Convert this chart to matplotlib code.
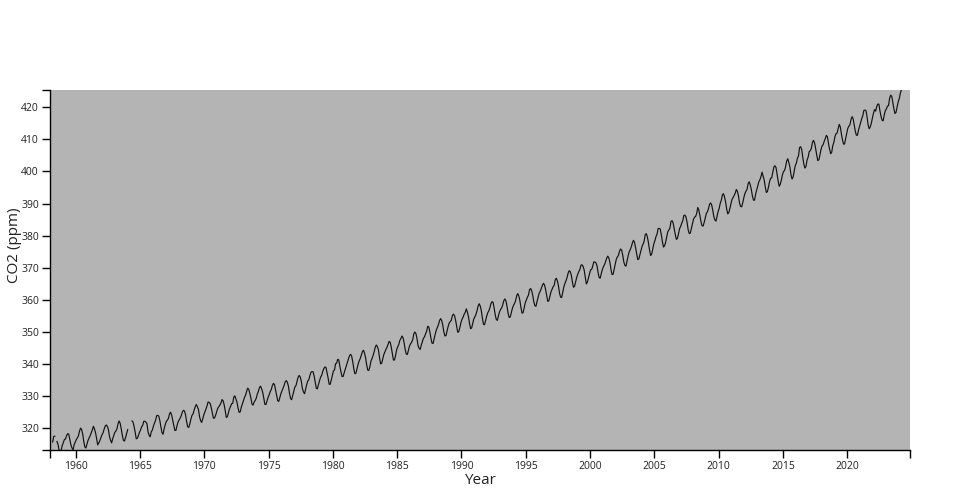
import numpy as np
import matplotlib
matplotlib.use('Agg')
import matplotlib.pyplot as plt

# Monthly mean CO2 at Mauna Loa (ppm), March 1958 to March 2024; None = missing month
first_year = 1958
first_month = 3
co2_ppm = [
    315.70, 317.45, 317.51, None, 315.86, 314.93, 313.20, None, 313.33, 314.67,  # 1958 (Mar-Dec)
    315.58, 316.49, 316.65, 317.72, 318.29, 318.15, 316.54, 314.80, 313.84, 313.26, 314.80, 315.58,
    316.43, 316.97, 317.58, 319.02, 320.03, 319.59, 318.18, 315.91, 314.16, 313.83, 315.00, 316.19,
    316.93, 317.70, 318.54, 319.48, 320.58, 319.77, 318.57, 316.79, 314.80, 315.38, 316.10, 317.01,
    317.94, 318.56, 319.68, 320.63, 321.01, 320.55, 319.58, 317.40, 316.26, 315.42, 316.69, 317.69,
    318.74, 319.08, 319.86, 321.39, 322.25, 321.47, 319.74, 317.77, 316.21, 315.99, 317.07, 318.35,
    319.57, None, None, None, 322.26, 321.89, 320.44, 318.70, 316.70, 316.87, 317.68, 318.71,
    319.44, 320.44, 320.89, 322.13, 322.16, 321.87, 321.39, 318.81, 317.81, 317.30, 318.87, 319.42,
    320.62, 321.59, 322.39, 323.87, 324.01, 323.75, 322.39, 320.37, 318.64, 318.10, 319.79, 321.08,
    322.07, 322.50, 323.04, 324.42, 325.00, 324.09, 322.55, 320.92, 319.31, 319.31, 320.72, 321.96,
    322.57, 323.15, 323.89, 325.02, 325.57, 325.36, 324.14, 322.03, 320.41, 320.25, 321.31, 322.84,
    324.00, 324.42, 325.64, 326.66, 327.38, 326.70, 325.89, 323.67, 322.38, 321.78, 322.85, 324.11,
    325.03, 325.99, 326.87, 328.13, 328.07, 327.66, 326.35, 324.69, 323.10, 323.16, 323.98, 325.13,
    326.17, 326.68, 327.18, 327.78, 328.92, 328.57, 327.34, 325.46, 323.36, 323.57, 324.80, 326.01,
    326.77, 327.63, 327.75, 329.72, 330.07, 329.09, 328.05, 326.32, 324.93, 325.06, 326.50, 327.55,
    328.54, 329.56, 330.30, 331.50, 332.48, 332.07, 330.87, 329.31, 327.51, 327.18, 328.16, 328.64,
    329.35, 330.71, 331.48, 332.65, 333.09, 332.25, 331.18, 329.40, 327.43, 327.37, 328.46, 329.57,
    330.40, 331.40, 332.04, 333.31, 333.96, 333.59, 331.91, 330.06, 328.56, 328.34, 329.49, 330.76,
    331.63, 332.46, 333.36, 334.45, 334.82, 334.32, 333.05, 330.87, 329.24, 328.87, 330.18, 331.50,
    332.81, 333.23, 334.55, 335.82, 336.44, 335.99, 334.65, 332.41, 331.32, 330.73, 332.05, 333.53,
    334.66, 335.07, 336.33, 337.39, 337.65, 337.57, 336.25, 334.39, 332.44, 332.25, 333.59, 334.76,
    335.89, 336.44, 337.63, 338.54, 339.06, 338.95, 337.41, 335.71, 333.68, 333.69, 335.05, 336.53,
    337.81, 338.16, 340.10, 340.26, 341.47, 341.26, 339.29, 337.60, 336.12, 336.08, 337.22, 338.34,
    339.36, 340.51, 341.57, 342.56, 343.01, 342.47, 340.71, 338.52, 336.96, 337.13, 338.58, 339.89,
    340.93, 341.69, 342.69, 343.79, 344.30, 343.43, 341.94, 339.77, 338.09, 337.99, 339.14, 340.86,
    341.69, 342.65, 343.76, 345.22, 345.92, 345.42, 344.38, 342.06, 340.05, 340.19, 341.54, 342.91,
    343.78, 344.58, 345.24, 346.12, 347.05, 346.73, 345.18, 343.11, 341.22, 341.26, 342.71, 344.40,
    345.36, 346.09, 347.36, 348.00, 348.72, 348.14, 346.53, 344.43, 343.08, 342.99, 344.27, 345.62,
    346.30, 346.77, 347.60, 349.38, 349.97, 349.48, 347.89, 345.71, 344.86, 344.55, 345.92, 346.99,
    348.02, 348.47, 349.43, 350.20, 351.75, 351.51, 349.97, 348.01, 346.50, 346.41, 347.86, 349.31,
    350.56, 351.42, 352.26, 353.49, 354.15, 353.60, 352.17, 350.08, 348.77, 348.82, 350.28, 351.64,
    352.71, 353.21, 353.63, 355.08, 355.55, 355.05, 353.65, 351.69, 349.88, 350.09, 351.39, 352.86,
    353.95, 354.61, 355.51, 356.08, 357.19, 356.16, 354.73, 352.65, 350.98, 351.25, 352.68, 354.06,
    354.67, 355.46, 356.56, 358.08, 358.78, 358.07, 356.62, 354.32, 352.36, 352.23, 353.61, 354.88,
    355.96, 356.52, 357.53, 358.81, 359.43, 359.19, 357.40, 355.30, 353.85, 353.59, 355.05, 356.25,
    357.00, 357.47, 358.42, 359.74, 360.28, 359.64, 357.95, 355.83, 354.50, 354.64, 355.95, 357.33,
    358.24, 358.82, 359.73, 361.28, 361.94, 361.22, 359.74, 357.54, 355.84, 356.00, 357.59, 359.04,
    359.94, 360.78, 361.49, 363.15, 363.52, 362.83, 361.39, 359.38, 358.17, 357.99, 359.45, 360.68,
    362.03, 362.71, 363.55, 364.51, 365.15, 364.65, 363.22, 361.45, 359.53, 359.69, 361.07, 362.46,
    363.23, 364.07, 364.51, 366.22, 366.73, 365.89, 364.34, 362.06, 360.83, 360.72, 362.40, 364.00,
    365.08, 365.91, 366.92, 368.29, 369.08, 368.78, 367.58, 365.61, 363.91, 364.20, 365.54, 366.93,
    367.99, 368.80, 369.46, 370.76, 370.93, 370.40, 369.26, 367.14, 364.95, 365.51, 366.89, 368.14,
    369.30, 369.46, 370.53, 371.82, 371.77, 371.52, 370.60, 368.48, 366.86, 366.77, 368.24, 369.47,
    370.36, 370.99, 371.92, 372.97, 373.61, 373.08, 371.66, 369.48, 367.89, 367.95, 369.51, 370.94,
    372.70, 373.37, 373.85, 375.19, 375.84, 375.44, 373.86, 371.77, 370.73, 370.50, 372.18, 373.70,
    374.92, 375.63, 376.51, 377.75, 378.54, 377.84, 376.15, 374.25, 372.54, 372.74, 374.07, 375.52,
    376.64, 377.39, 378.32, 380.36, 380.60, 379.56, 377.72, 375.49, 373.80, 374.25, 375.79, 377.43,
    378.43, 379.69, 380.45, 382.17, 382.28, 382.00, 380.23, 378.12, 376.44, 376.82, 377.94, 379.55,
    381.20, 381.75, 382.31, 384.44, 384.67, 383.95, 382.12, 380.41, 378.85, 379.09, 380.53, 382.14,
    382.89, 383.81, 384.61, 386.26, 386.39, 385.80, 384.16, 381.91, 380.67, 380.77, 382.11, 383.59,
    385.09, 385.75, 385.98, 386.94, 388.77, 387.96, 386.14, 384.38, 383.07, 382.99, 384.14, 385.58,
    386.91, 387.44, 388.40, 389.75, 390.20, 389.55, 387.88, 385.91, 384.85, 384.53, 386.07, 387.54,
    388.56, 390.11, 391.04, 392.76, 393.07, 392.02, 390.43, 388.25, 386.78, 387.21, 388.51, 389.99,
    391.33, 391.87, 392.60, 393.26, 394.40, 393.79, 392.33, 390.07, 389.07, 388.99, 390.28, 391.86,
    393.12, 393.86, 394.40, 396.18, 396.78, 395.81, 394.33, 392.33, 391.05, 391.07, 392.95, 394.28,
    395.55, 396.80, 397.43, 398.41, 399.78, 398.60, 397.32, 395.20, 393.45, 393.70, 395.16, 396.84,
    397.85, 398.01, 399.77, 401.38, 401.78, 401.25, 399.10, 397.03, 395.38, 396.03, 397.28, 398.91,
    399.98, 400.28, 401.54, 403.28, 403.96, 402.80, 401.31, 398.93, 397.63, 398.29, 400.16, 401.85,
    402.56, 404.12, 404.87, 407.45, 407.72, 406.83, 404.41, 402.27, 401.05, 401.59, 403.55, 404.45,
    406.17, 406.46, 407.22, 409.04, 409.69, 408.88, 407.12, 405.13, 403.37, 403.63, 405.12, 406.81,
    407.96, 408.32, 409.41, 410.24, 411.24, 410.79, 408.71, 406.99, 405.51, 406.00, 408.02, 409.07,
    410.83, 411.75, 411.97, 413.32, 414.66, 413.92, 411.77, 409.95, 408.54, 408.53, 410.27, 411.76,
    413.40, 414.11, 414.51, 416.21, 417.07, 416.39, 414.38, 412.55, 411.29, 411.28, 412.89, 414.02,
    415.24, 416.45, 417.36, 419.02, 419.13, 418.94, 416.96, 414.47, 413.30, 413.93, 415.01, 416.71,
    418.19, 419.28, 418.81, 420.23, 420.99, 420.99, 418.90, 417.19, 415.95, 415.78, 417.51, 418.95,
    419.47, 420.33, 420.51, 422.73, 423.78, 423.39, 421.62, 419.56, 418.06, 418.41, 420.11, 421.65,
    422.62, 424.34, 425.38,  # 2024 (Jan-Mar)
]
x_ticks = [1960, 1965, 1970, 1975, 1980, 1985, 1990, 1995, 2000, 2005, 2010, 2015, 2020]
y_ticks = [320, 330, 340, 350, 360, 370, 380, 390, 400, 410, 420]

# Decimal year (mid-month) for each value, missing months become NaN gaps
month_index = np.arange(len(co2_ppm)) + (first_month - 1)
dec_year = first_year + (month_index + 0.5) / 12
values = np.array([np.nan if v is None else v for v in co2_ppm], dtype=float)

plt.rcParams['font.family'] = ['Open Sans', 'DejaVu Sans']

fig = plt.figure(figsize=(9.6, 5.0), dpi=100)
ax = fig.add_axes([50 / 960, 50 / 500, 860 / 960, 360 / 500])
ax.set_facecolor('#b4b4b4')

ax.plot(dec_year, values, color='#111111', linewidth=0.85)

ax.set_xlim(1958.0, 2024.88)
ax.set_ylim(np.nanmin(values), np.nanmax(values))

# Axis styling: d3-like axes on left and bottom only
for side in ('top', 'right'):
    ax.spines[side].set_visible(False)
for side in ('left', 'bottom'):
    ax.spines[side].set_linewidth(1.0)
    ax.spines[side].set_color('black')

ax.set_xticks(x_ticks)
ax.set_xticklabels([str(t) for t in x_ticks])
ax.set_yticks(y_ticks)
ax.set_yticklabels([str(t) for t in y_ticks])
# outer ticks at the ends of each axis line
ax.set_xticks(list(ax.get_xlim()), minor=True)
ax.set_yticks(list(ax.get_ylim()), minor=True)
ax.tick_params(which='both', direction='out', length=6, width=1,
               color='black', labelsize=7.5, labelcolor='#222222', pad=2)

ax.set_xlabel('Year', fontsize=11, color='#222222', labelpad=1)
ax.set_ylabel('CO2 (ppm)', fontsize=11, color='#222222')
ax.yaxis.set_label_coords(-0.0326, 0.569)

fig.savefig('out.png', dpi=100)
